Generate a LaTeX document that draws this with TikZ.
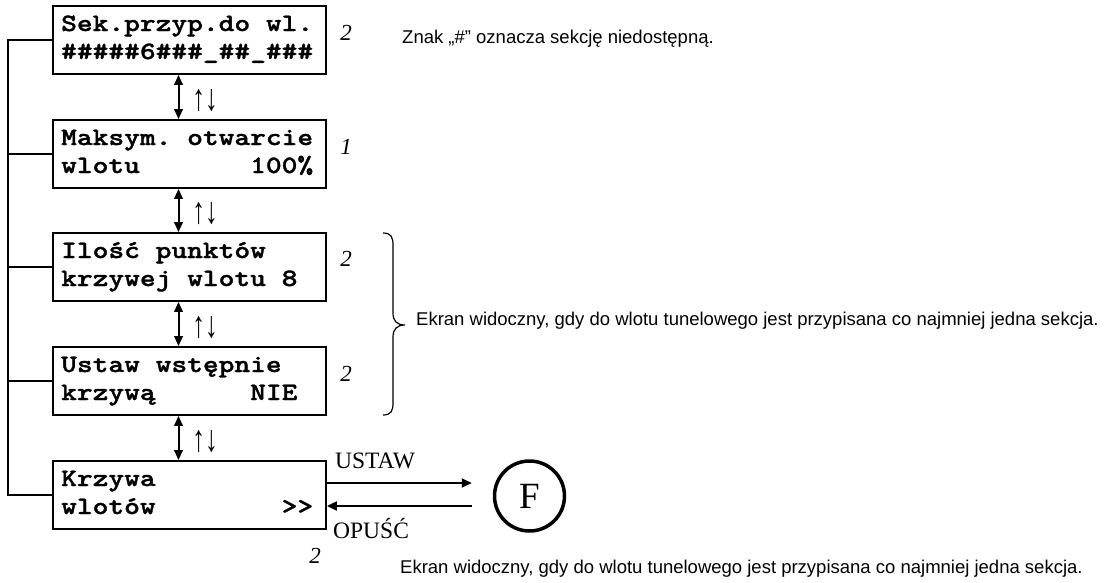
\documentclass[tikz,border=0pt]{standalone}
\usepackage{fontspec}
\setmainfont{Liberation Serif}
\newfontfamily\notefont{Liberation Sans}
\newfontfamily\lcdfont{lmmonolt10-bold}[Extension=.otf,FakeStretch=1.2,FakeBold=1.3]
\usepackage{graphicx}
\usetikzlibrary{arrows.meta,calc}
\newcommand{\updownsym}{\scalebox{1.15}[1.7]{↑↓}}
\begin{document}
\begin{tikzpicture}[x=1pt,y=-1pt,
  lcd/.style={draw,line width=1.8pt,minimum width=273pt,minimum height=68pt,inner sep=0pt},
  lcdtext/.style={anchor=base west,inner sep=0pt,font=\lcdfont\fontsize{25}{25}\selectfont},
  num/.style={font=\itshape\fontsize{23}{23}\selectfont,inner sep=0pt},
  updown/.style={font=\fontsize{22}{22}\selectfont,inner sep=0pt},
  note/.style={anchor=west,inner sep=0pt,font=\notefont\fontsize{18.5}{18.5}\selectfont},
  lbl/.style={anchor=west,inner sep=0pt,font=\fontsize{23.5}{23.5}\selectfont},
  dbl/.style={line width=2pt,{Triangle[length=10pt,width=8.5pt]}-{Triangle[length=10pt,width=8.5pt]}},
  arr/.style={line width=2pt,-{Triangle[length=10pt,width=9pt]}},
  link/.style={line width=1.4pt},
  bracestyle/.style={line width=1.2pt},
  fcircle/.style={circle,draw,line width=3.5pt,minimum size=70pt,inner sep=0pt,font=\fontsize{37}{37}\selectfont},
]
\useasboundingbox (0,0) rectangle (1109,582);

% boxes
\node[lcd] (b1) at (189.5,40) {};
\node[lcd] (b2) at (189.5,154) {};
\node[lcd] (b3) at (189.5,267) {};
\node[lcd] (b4) at (189.5,381) {};
\node[lcd] (b5) at (189.5,495) {};

% box texts
\node[lcdtext] (t1a) at (61,31) {Sek.przyp.do~wl.};
\node[lcdtext] (t1b) at (61,59) {\#\#\#\#\#6\#\#\#\_\#\#\_\#\#\#};
\node[lcdtext] (t2a) at (61,145) {Maksym.~otwarcie};
\node[lcdtext] (t2b) at (61,173) {wlotu~~~~~~~100\%};
\node[lcdtext] (t3a) at (61,258) {Ilość~punktów};
\node[lcdtext] (t3b) at (61,286) {krzywej~wlotu~8};
\node[lcdtext] (t4a) at (61,372) {Ustaw~wstępnie};
\node[lcdtext] (t4b) at (61,400) {krzywą~~~~~~NIE};
\node[lcdtext] (t5a) at (61,486) {Krzywa};
\node[lcdtext] (t5b) at (61,514) {wlotów~~~~~~~~>{}>};

% left bus
\coordinate (L) at (8,0);
\draw[link] (b1.west) -- (b1.west -| L) -- (b5.west -| L) -- (b5.west);
\draw[link] (b2.west) -- (b2.west -| L);
\draw[link] (b3.west) -- (b3.west -| L);
\draw[link] (b4.west) -- (b4.west -| L);

% vertical double arrows
\coordinate (A) at (178.5,0);
\draw[dbl] (b1.south -| A) -- (b2.north -| A);
\draw[dbl] (b2.south -| A) -- (b3.north -| A);
\draw[dbl] (b3.south -| A) -- (b4.north -| A);
\draw[dbl] (b4.south -| A) -- (b5.north -| A);

\node[updown] (ud1) at (205,101) {\updownsym};
\node[updown] (ud2) at (205,214) {\updownsym};
\node[updown] (ud3) at (205,328) {\updownsym};
\node[updown] (ud4) at (205,442) {\updownsym};

% numbers
\node[num] (n1) at (346,33) {2};
\node[num] (n2) at (346,147) {1};
\node[num] (n3) at (346,259) {2};
\node[num] (n4) at (346,374) {2};
\node[num] (n5) at (315,556) {2};

% F circle and arrows
\node[fcircle] (F) at (529.5,496) {F};
\draw[arr] ([yshift=12pt]b5.east) -- ([xshift=-21pt,yshift=12pt]b5.east -| F.west);
\draw[arr] ([xshift=-21pt,yshift=-11pt]b5.east -| F.west) -- ([yshift=-11pt]b5.east);
\node[lbl] (ustaw) at (335,461) {USTAW};
\node[lbl] (opusc) at (333,529) {OPUŚĆ};

% brace
\draw[bracestyle] (383,233) .. controls (391,233) and (393,237) .. (393,245) -- (393,313) .. controls (393,321) and (397,325) .. (405,325) .. controls (397,325) and (393,329) .. (393,337) -- (393,403) .. controls (393,411) and (391,415) .. (383,415);

% notes
\node[note] (znak) at (402,39) {Znak „\#” oznacza sekcję niedostępną.};
\node[note] (ekran1) at (416,321) {Ekran widoczny, gdy do wlotu tunelowego jest przypisana co najmniej jedna sekcja.};
\node[note] (ekran2) at (400,569) {Ekran widoczny, gdy do wlotu tunelowego jest przypisana co najmniej jedna sekcja.};
\end{tikzpicture}
\end{document}
